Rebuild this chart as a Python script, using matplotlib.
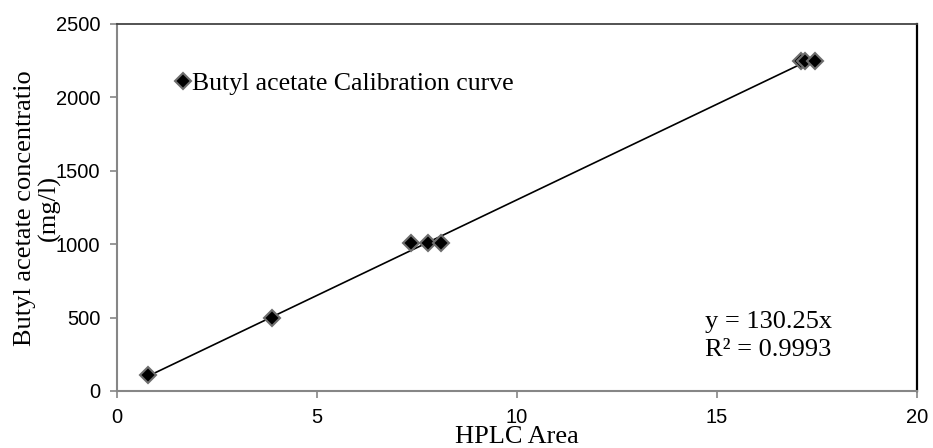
import numpy as np
import matplotlib
matplotlib.use("Agg")
import matplotlib.pyplot as plt

# Data
hplc_area = [0.78, 3.87, 7.35, 7.78, 8.10, 17.10, 17.20, 17.45]
concentration = [110, 500, 1005, 1005, 1005, 2250, 2250, 2250]
slope = 130.25
r_squared = 0.9993

x_ticks = [0, 5, 10, 15, 20]
y_ticks = [0, 500, 1000, 1500, 2000, 2500]

serif = ["Liberation Serif", "DejaVu Serif"]
sans = ["Liberation Sans", "DejaVu Sans"]
plt.rcParams["font.family"] = sans
plt.rcParams["xtick.labelsize"] = 14.5
plt.rcParams["ytick.labelsize"] = 14.5

fig = plt.figure(figsize=(9.33, 4.48), dpi=100)
ax = fig.add_axes([117/933, 1-391/448, 800/933, 367/448])

# trendline through origin, spanning the data range
xs = np.array([min(hplc_area), max(hplc_area)])
ax.plot(xs, slope*xs, color="black", lw=1.2, zorder=2)

ax.plot(hplc_area, concentration, linestyle="none", marker="D", markersize=8.5,
        markerfacecolor="black", markeredgecolor="#6e6e6e", markeredgewidth=1.5,
        zorder=3, label="Butyl acetate Calibration curve")

ax.set_xlim(0, 20)
ax.set_ylim(0, 2500)
ax.set_xticks(x_ticks)
ax.set_yticks(y_ticks)
ax.tick_params(axis="both", direction="out", length=5, width=1.2, color="#868686",
               pad=7)

ax.spines["left"].set_color("#868686")
ax.spines["bottom"].set_color("#868686")
ax.spines["left"].set_linewidth(1.5)
ax.spines["bottom"].set_linewidth(1.5)
ax.spines["top"].set_color("#444444")
ax.spines["top"].set_linewidth(1.3)
ax.spines["right"].set_color("black")
ax.spines["right"].set_linewidth(1.6)

ax.legend(loc="upper left", bbox_to_anchor=(48/800, 1-38/367), frameon=False,
          handlelength=0.6, handletextpad=0.05, borderaxespad=0,
          prop={"family": serif, "size": 18.5})

fig.text(705/933, 1-322/448, f"y = {slope}x", fontsize=19, family=serif,
         va="center", ha="left")
fig.text(705/933, 1-350/448, f"R² = {r_squared}", fontsize=19, family=serif,
         va="center", ha="left")

fig.text(517/933, 1-437/448, "HPLC Area", fontsize=19, family=serif,
         va="center", ha="center")
fig.text(37/933, 1-208/448, "Butyl acetate concentratio\n(mg/l)", fontsize=19,
         family=serif, rotation=90, va="center", ha="center", linespacing=1.1,
         multialignment="center")

fig.savefig("out.png", dpi=100)
